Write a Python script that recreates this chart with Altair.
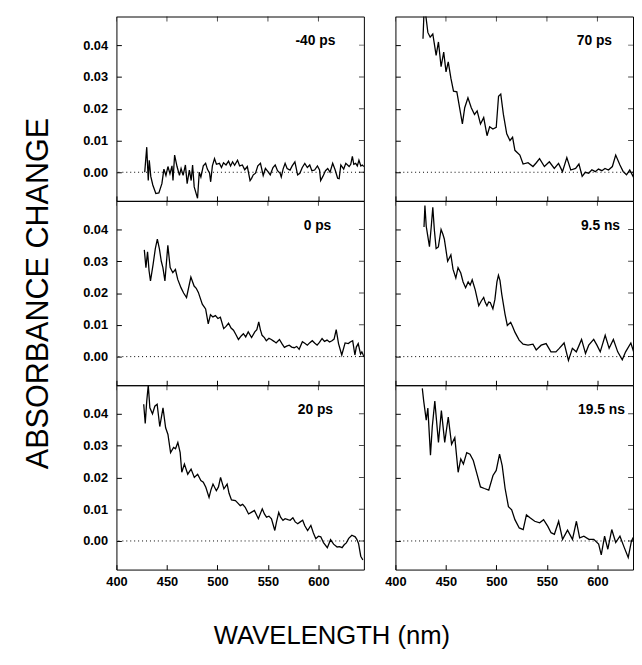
import altair as alt
import pandas as pd

# ---- data: (wavelength nm, absorbance change) ----
spec_m40ps = [
    (428.0, 0.0000), (430.0, 0.0079), (431.5, -0.0026), (432.5, 0.0038), (434.0, -0.0013),
    (436.0, -0.0040), (439.0, -0.0067), (442.0, -0.0065), (445.0, -0.0036), (447.0, 0.0010),
    (449.0, -0.0010), (451.0, 0.0018), (453.0, -0.0005), (455.0, 0.0020), (456.0, -0.0026),
    (457.6, 0.0054), (460.0, 0.0018), (462.4, -0.0010), (464.0, 0.0012), (466.0, -0.0010),
    (468.3, 0.0023), (470.0, -0.0036), (472.2, 0.0007), (474.0, -0.0026), (475.4, 0.0023),
    (477.0, -0.0046), (480.3, -0.0082), (482.0, 0.0000), (483.6, -0.0015), (486.0, 0.0020),
    (488.3, 0.0028), (490.0, 0.0010), (492.2, -0.0003), (493.3, -0.0030), (495.0, 0.0020),
    (497.1, 0.0043), (499.0, 0.0025), (502.0, 0.0028), (504.0, 0.0015), (506.0, 0.0030),
    (508.5, 0.0023), (511.0, 0.0035), (513.0, 0.0020), (515.0, 0.0033), (517.0, 0.0022),
    (519.9, 0.0038), (522.0, 0.0020), (524.7, 0.0023), (527.0, 0.0008), (529.6, 0.0018),
    (532.3, -0.0026), (533.8, -0.0019), (535.5, -0.0008), (537.7, -0.0003), (540.0, 0.0020),
    (542.6, 0.0028), (545.3, -0.0010), (547.5, 0.0012), (550.0, 0.0002), (552.3, -0.0008),
    (555.0, 0.0015), (557.2, 0.0023), (559.5, 0.0005), (562.1, -0.0003), (563.2, -0.0015),
    (565.0, 0.0010), (567.0, 0.0028), (569.0, 0.0012), (571.9, 0.0007), (574.0, 0.0020),
    (576.7, 0.0033), (579.4, -0.0008), (581.6, -0.0003), (584.0, 0.0015), (586.5, 0.0028),
    (589.0, 0.0015), (591.4, 0.0023), (593.5, 0.0005), (596.2, 0.0007), (599.0, 0.0020),
    (601.1, 0.0007), (602.2, -0.0026), (604.4, -0.0013), (607.0, 0.0005), (609.2, 0.0012),
    (611.5, 0.0000), (614.1, 0.0028), (616.5, 0.0008), (619.0, -0.0019), (620.5, -0.0020),
    (622.2, 0.0023), (625.0, 0.0010), (627.1, 0.0028), (630.4, 0.0018), (632.0, 0.0025),
    (633.6, 0.0050), (635.0, 0.0025), (636.9, 0.0028), (638.5, 0.0020), (640.1, 0.0038),
    (642.0, 0.0020), (643.4, 0.0023), (645.0, 0.0018),
]

spec_0ps = [
    (427.6, 0.0336), (429.2, 0.0280), (430.8, 0.0330), (432.3, 0.0270), (433.7, 0.0238),
    (436.3, 0.0290), (438.5, 0.0340), (440.5, 0.0370), (442.5, 0.0340), (444.4, 0.0300),
    (446.0, 0.0280), (448.0, 0.0238), (450.9, 0.0350), (453.2, 0.0280), (455.8, 0.0264),
    (458.4, 0.0274), (460.7, 0.0243), (463.9, 0.0217), (466.5, 0.0200), (469.4, 0.0186),
    (473.7, 0.0250), (476.9, 0.0222), (479.0, 0.0215), (481.1, 0.0202), (485.0, 0.0165),
    (488.3, 0.0150), (490.9, 0.0103), (493.1, 0.0132), (495.5, 0.0125), (498.0, 0.0129),
    (500.5, 0.0120), (502.9, 0.0124), (506.2, 0.0088), (508.5, 0.0095), (511.0, 0.0105),
    (513.5, 0.0090), (515.9, 0.0083), (518.5, 0.0068), (520.8, 0.0054), (523.5, 0.0065),
    (525.7, 0.0072), (528.0, 0.0062), (530.5, 0.0078), (533.8, 0.0060), (537.0, 0.0078),
    (539.0, 0.0085), (540.9, 0.0109), (542.5, 0.0085), (544.2, 0.0067), (546.5, 0.0060),
    (548.4, 0.0050), (551.0, 0.0058), (553.3, 0.0054), (556.0, 0.0048), (558.1, 0.0043),
    (561.4, 0.0054), (564.0, 0.0040), (566.3, 0.0029), (568.5, 0.0033), (571.1, 0.0036),
    (573.5, 0.0030), (576.0, 0.0028), (578.5, 0.0032), (580.9, 0.0023), (584.1, 0.0047),
    (586.5, 0.0042), (589.0, 0.0036), (591.5, 0.0044), (593.9, 0.0050), (596.5, 0.0042),
    (598.7, 0.0036), (601.0, 0.0045), (603.6, 0.0057), (606.0, 0.0048), (608.5, 0.0052),
    (611.0, 0.0046), (613.4, 0.0050), (615.5, 0.0055), (617.6, 0.0085), (619.9, 0.0041),
    (623.1, 0.0005), (626.4, 0.0043), (629.6, 0.0041), (631.5, 0.0046), (633.9, 0.0050),
    (636.1, 0.0005), (637.5, 0.0030), (639.4, 0.0041), (641.7, 0.0008), (643.0, 0.0015),
    (645.0, 0.0000),
]

spec_20ps = [
    (427.0, 0.0430), (428.5, 0.0370), (430.0, 0.0440), (431.5, 0.0490), (433.1, 0.0419),
    (435.7, 0.0400), (438.0, 0.0424), (440.3, 0.0430), (442.9, 0.0360), (446.1, 0.0419),
    (448.7, 0.0356), (451.0, 0.0335), (453.6, 0.0278), (456.6, 0.0294), (458.5, 0.0290),
    (460.8, 0.0310), (463.1, 0.0278), (464.7, 0.0216), (467.3, 0.0242), (470.6, 0.0210),
    (473.9, 0.0226), (477.1, 0.0200), (480.4, 0.0210), (483.6, 0.0190), (486.0, 0.0185),
    (488.5, 0.0169), (491.7, 0.0137), (493.5, 0.0160), (495.6, 0.0179), (498.9, 0.0158),
    (501.0, 0.0170), (503.1, 0.0200), (506.4, 0.0164), (509.6, 0.0179), (511.5, 0.0150),
    (513.9, 0.0129), (517.8, 0.0127), (520.0, 0.0120), (522.6, 0.0111), (525.0, 0.0115),
    (527.5, 0.0106), (530.8, 0.0085), (533.5, 0.0090), (536.6, 0.0096), (540.5, 0.0070),
    (544.4, 0.0101), (546.5, 0.0085), (548.6, 0.0075), (551.0, 0.0078), (553.5, 0.0070),
    (556.8, 0.0033), (558.5, 0.0060), (560.7, 0.0090), (562.5, 0.0075), (564.9, 0.0065),
    (567.0, 0.0070), (569.8, 0.0067), (572.0, 0.0065), (574.7, 0.0073), (577.0, 0.0060),
    (579.5, 0.0054), (582.0, 0.0060), (584.4, 0.0065), (586.5, 0.0048), (589.3, 0.0033),
    (592.5, 0.0049), (595.0, 0.0025), (597.4, 0.0007), (600.0, 0.0015), (602.3, 0.0013),
    (605.0, -0.0005), (608.8, -0.0021), (612.0, 0.0004), (615.0, -0.0010), (618.5, -0.0019),
    (621.0, -0.0018), (623.4, -0.0021), (625.5, -0.0012), (627.6, -0.0006), (630.0, 0.0008),
    (633.1, 0.0018), (636.4, 0.0013), (638.0, 0.0005), (639.7, -0.0008), (641.9, -0.0048),
    (644.0, -0.0060),
]

spec_70ps = [
    (427.3, 0.0420), (428.3, 0.0505), (430.0, 0.0495), (432.1, 0.0440), (434.4, 0.0425),
    (437.0, 0.0435), (440.3, 0.0368), (442.6, 0.0410), (445.2, 0.0332), (447.8, 0.0378),
    (450.1, 0.0316), (452.3, 0.0347), (454.9, 0.0296), (457.5, 0.0255), (460.8, 0.0253),
    (463.0, 0.0213), (466.3, 0.0152), (468.6, 0.0203), (471.8, 0.0234), (475.1, 0.0203),
    (478.3, 0.0182), (480.9, 0.0193), (484.2, 0.0152), (487.4, 0.0172), (490.7, 0.0115),
    (493.3, 0.0143), (496.5, 0.0136), (499.8, 0.0141), (502.1, 0.0239), (504.3, 0.0246),
    (506.9, 0.0182), (510.2, 0.0121), (513.4, 0.0100), (516.0, 0.0110), (518.3, 0.0069),
    (523.2, 0.0054), (526.4, 0.0026), (531.3, 0.0030), (536.2, 0.0018), (539.5, 0.0030),
    (542.7, 0.0043), (547.5, 0.0018), (552.4, 0.0033), (557.3, 0.0012), (561.5, 0.0028),
    (565.4, 0.0002), (569.7, 0.0046), (573.6, 0.0007), (578.4, 0.0012), (581.7, 0.0026),
    (584.9, -0.0013), (588.0, 0.0000), (591.4, -0.0003), (594.5, 0.0008), (597.9, 0.0002),
    (601.0, 0.0010), (604.4, 0.0005), (607.5, 0.0012), (610.9, 0.0007), (614.8, 0.0018),
    (618.1, 0.0054), (622.3, 0.0023), (625.5, 0.0002), (628.8, -0.0008), (632.0, 0.0007),
    (635.3, -0.0013), (638.0, -0.0005), (641.0, -0.0025), (644.0, -0.0030),
]

spec_9p5ns = [
    (428.3, 0.0408), (429.2, 0.0475), (430.5, 0.0410), (432.0, 0.0380), (433.7, 0.0346),
    (435.5, 0.0410), (437.0, 0.0470), (438.5, 0.0400), (440.3, 0.0340), (442.5, 0.0345),
    (445.2, 0.0400), (447.0, 0.0385), (448.4, 0.0370), (451.7, 0.0300), (454.9, 0.0320),
    (457.0, 0.0275), (459.8, 0.0247), (462.0, 0.0280), (464.7, 0.0263), (467.0, 0.0235),
    (469.5, 0.0217), (472.0, 0.0235), (474.0, 0.0225), (476.0, 0.0242), (479.0, 0.0210),
    (482.5, 0.0160), (485.0, 0.0175), (487.4, 0.0186), (489.0, 0.0170), (490.6, 0.0160),
    (492.3, 0.0172), (493.9, 0.0170), (496.5, 0.0150), (498.5, 0.0180), (500.5, 0.0235),
    (502.0, 0.0256), (503.5, 0.0240), (505.3, 0.0196), (508.5, 0.0134), (510.8, 0.0098),
    (514.1, 0.0108), (516.0, 0.0095), (518.3, 0.0077), (522.5, 0.0052), (526.4, 0.0039),
    (531.3, 0.0036), (536.2, 0.0039), (539.4, 0.0021), (544.3, 0.0036), (549.2, 0.0041),
    (554.0, 0.0015), (558.9, 0.0015), (562.2, 0.0026), (567.0, 0.0043), (571.3, -0.0012),
    (575.2, 0.0026), (579.1, 0.0015), (584.3, 0.0054), (588.2, 0.0010), (591.4, 0.0036),
    (596.3, 0.0054), (599.5, 0.0036), (602.8, 0.0015), (607.7, 0.0067), (611.6, 0.0026),
    (615.8, 0.0054), (620.1, 0.0015), (624.6, -0.0010), (627.9, 0.0015), (633.1, 0.0043),
    (636.4, 0.0010), (639.5, 0.0025), (642.0, 0.0005), (645.0, -0.0015),
]

spec_19p5ns = [
    (426.6, 0.0480), (428.0, 0.0440), (430.5, 0.0380), (432.1, 0.0418), (434.7, 0.0270),
    (436.5, 0.0360), (439.0, 0.0440), (442.6, 0.0310), (445.5, 0.0410), (448.8, 0.0310),
    (452.3, 0.0390), (455.6, 0.0304), (458.8, 0.0325), (462.1, 0.0216), (464.7, 0.0258),
    (467.3, 0.0242), (470.6, 0.0278), (473.8, 0.0273), (477.1, 0.0253), (480.3, 0.0216),
    (484.2, 0.0170), (488.1, 0.0165), (492.4, 0.0160), (496.6, 0.0206), (499.8, 0.0222),
    (503.1, 0.0273), (505.7, 0.0237), (508.6, 0.0165), (511.9, 0.0108), (515.1, 0.0098),
    (518.3, 0.0067), (522.6, 0.0041), (526.5, 0.0036), (529.7, 0.0082), (533.6, 0.0072),
    (537.9, 0.0062), (542.8, 0.0057), (546.7, 0.0067), (550.9, 0.0046), (554.1, 0.0026),
    (557.4, 0.0021), (561.6, 0.0062), (565.5, 0.0005), (570.4, 0.0034), (575.3, 0.0005),
    (579.2, 0.0062), (582.4, 0.0010), (586.6, 0.0015), (591.5, 0.0005), (596.4, 0.0005),
    (601.2, -0.0010), (603.8, -0.0044), (607.1, 0.0015), (610.3, -0.0026), (614.2, 0.0036),
    (618.1, -0.0005), (622.3, 0.0015), (626.6, -0.0021), (630.5, -0.0052), (633.7, 0.0000),
    (637.6, 0.0024), (640.0, 0.0000), (643.0, 0.0020), (645.0, 0.0030),
]

panel_labels = ["-40 ps", "0 ps", "20 ps", "70 ps", "9.5 ns", "19.5 ns"]
panel_spectra = [spec_m40ps, spec_0ps, spec_20ps, spec_70ps, spec_9p5ns, spec_19p5ns]
x_ticks = [400, 450, 500, 550, 600]
y_ticks = [0.0, 0.01, 0.02, 0.03, 0.04]

FONT = "Liberation Sans"
PANEL_H = 187
Y_DOMAIN = [-0.009, 0.049]


def panel(label, spectrum, left, bottom, width, x_max, label_x, y_title=None):
    df = pd.DataFrame(spectrum, columns=["wavelength", "absorbance"])
    x_axis = alt.Axis(values=x_ticks, labels=bottom, ticks=True, tickSize=5, offset=-5,
                      domain=False, grid=False, title=None, format="d", labelFlush=False,
                      labelFontSize=13, labelFontWeight="bold", labelPadding=6)
    y_kw = dict(values=y_ticks, labels=left, ticks=True, tickSize=5, offset=-5,
                domain=False, grid=False, format=".2f", labelFlush=False,
                labelFontSize=13, labelFontWeight="bold", labelPadding=9)
    if y_title:
        y_axis = alt.Axis(title=y_title, titleFontSize=31, titleFontWeight="normal",
                          titleFont=FONT, titleColor="black", titlePadding=29, **y_kw)
    else:
        y_axis = alt.Axis(title=None, **y_kw)
    xs = alt.Scale(domain=[400, x_max], nice=False, zero=False)
    ys = alt.Scale(domain=Y_DOMAIN, nice=False, zero=False)
    line = alt.Chart(df).mark_line(color="black", strokeWidth=1.3, clip=True).encode(
        x=alt.X("wavelength:Q", scale=xs, axis=x_axis),
        y=alt.Y("absorbance:Q", scale=ys, axis=y_axis),
    )
    zero = alt.Chart(pd.DataFrame({"level": [0.0]})).mark_rule(
        color="black", strokeWidth=1, strokeDash=[1, 3]
    ).encode(y="level:Q")
    # inward tick marks on the right and top edges (half of each tick is clipped away)
    right_ticks = alt.Chart(pd.DataFrame({"yt": y_ticks})).mark_tick(
        color="black", orient="horizontal", size=10, thickness=1, clip=True
    ).encode(x=alt.XDatum(x_max), y="yt:Q")
    top_ticks = alt.Chart(pd.DataFrame({"xt": x_ticks})).mark_tick(
        color="black", orient="vertical", size=10, thickness=1, clip=True
    ).encode(x="xt:Q", y=alt.YDatum(Y_DOMAIN[1]))
    txt = alt.Chart(pd.DataFrame({"label": [label]})).mark_text(
        font=FONT, fontSize=14, fontWeight="bold", color="black", align="center", baseline="middle"
    ).encode(x=alt.datum(label_x), y=alt.datum(0.0412), text="label:N")
    return alt.layer(line, zero, right_ticks, top_ticks, txt).properties(width=width, height=PANEL_H)


LEFT_W = 251
RIGHT_W = 241
RIGHT_XMAX = 400 + RIGHT_W * 245 / 251
left_col = alt.vconcat(
    panel(panel_labels[0], panel_spectra[0], True, False, LEFT_W, 645, 597),
    panel(panel_labels[1], panel_spectra[1], True, False, LEFT_W, 645, 599, "ABSORBANCE CHANGE"),
    panel(panel_labels[2], panel_spectra[2], True, True, LEFT_W, 645, 597),
    spacing=0, bounds="flush",
)
right_col = alt.vconcat(
    panel(panel_labels[3], panel_spectra[3], False, False, RIGHT_W, RIGHT_XMAX, 597),
    panel(panel_labels[4], panel_spectra[4], False, False, RIGHT_W, RIGHT_XMAX, 603),
    panel(panel_labels[5], panel_spectra[5], False, True, RIGHT_W, RIGHT_XMAX, 604),
    spacing=0, bounds="flush",
)

# the centred "400" label of the lower right panel already reaches ~11 px into the gap
chart = alt.hconcat(left_col, right_col, spacing=19).properties(
    title=alt.TitleParams("WAVELENGTH (nm)", orient="bottom", anchor="middle", fontSize=26,
                          fontWeight="normal", font=FONT, color="black", offset=35, dx=4),
    padding={"left": 14, "top": 3, "right": 0, "bottom": 0},
).configure_view(stroke="black", strokeWidth=1).configure_axis(
    labelFont=FONT, labelColor="black", tickColor="black", tickWidth=1
)

chart.save("out.html", embed_options={"renderer": "svg", "actions": False})
